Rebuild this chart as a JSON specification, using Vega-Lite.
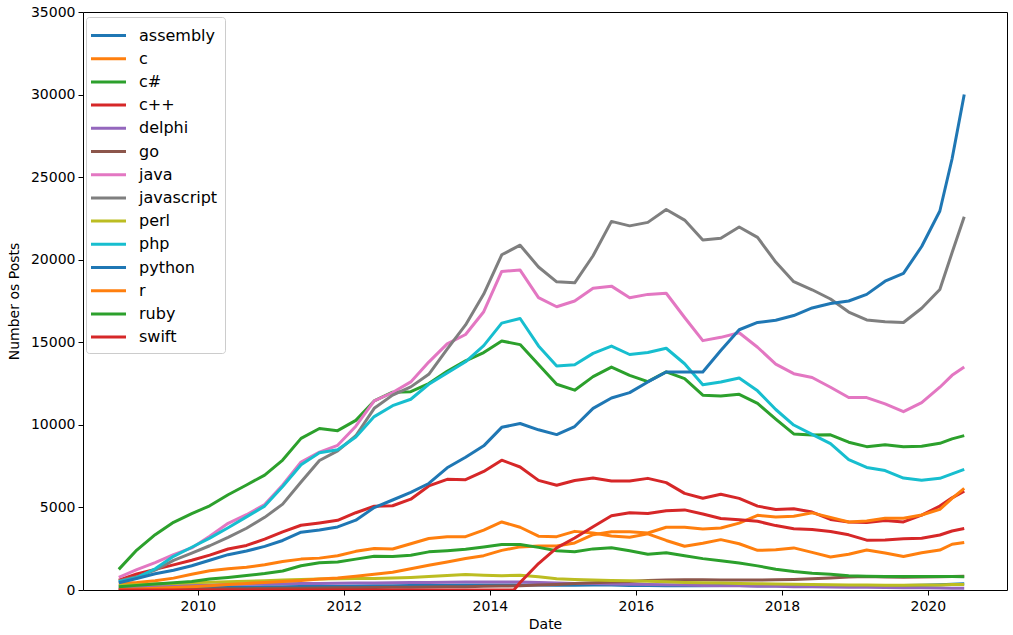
{
"$schema": "https://vega.github.io/schema/vega-lite/v6.json",
"width": 924, "height": 578,
"autosize": {"type": "none"},
"padding": {"left": 83, "top": 12, "right": 6, "bottom": 45},
"background": "white",
"config": {"font": "DejaVu Sans", "view": {"stroke": "black", "strokeWidth": 1}},
"data": {"values": [
{"d":"2008-12","l":"assembly","v":70},{"d":"2009-03","l":"assembly","v":90},{"d":"2009-06","l":"assembly","v":110},{"d":"2009-09","l":"assembly","v":130},{"d":"2009-12","l":"assembly","v":150},{"d":"2010-03","l":"assembly","v":160},{"d":"2010-06","l":"assembly","v":170},{"d":"2010-09","l":"assembly","v":180},{"d":"2010-12","l":"assembly","v":190},{"d":"2011-03","l":"assembly","v":200},{"d":"2011-06","l":"assembly","v":210},{"d":"2011-09","l":"assembly","v":220},{"d":"2011-12","l":"assembly","v":230},{"d":"2012-03","l":"assembly","v":240},{"d":"2012-06","l":"assembly","v":250},{"d":"2012-09","l":"assembly","v":260},{"d":"2012-12","l":"assembly","v":270},{"d":"2013-03","l":"assembly","v":280},{"d":"2013-06","l":"assembly","v":290},{"d":"2013-09","l":"assembly","v":300},{"d":"2013-12","l":"assembly","v":300},{"d":"2014-03","l":"assembly","v":310},{"d":"2014-06","l":"assembly","v":310},{"d":"2014-09","l":"assembly","v":300},{"d":"2014-12","l":"assembly","v":290},{"d":"2015-03","l":"assembly","v":290},{"d":"2015-06","l":"assembly","v":300},{"d":"2015-09","l":"assembly","v":300},{"d":"2015-12","l":"assembly","v":280},{"d":"2016-03","l":"assembly","v":270},{"d":"2016-06","l":"assembly","v":260},{"d":"2016-09","l":"assembly","v":260},{"d":"2016-12","l":"assembly","v":260},{"d":"2017-03","l":"assembly","v":270},{"d":"2017-06","l":"assembly","v":270},{"d":"2017-09","l":"assembly","v":260},{"d":"2017-12","l":"assembly","v":250},{"d":"2018-03","l":"assembly","v":250},{"d":"2018-06","l":"assembly","v":250},{"d":"2018-09","l":"assembly","v":250},{"d":"2018-12","l":"assembly","v":250},{"d":"2019-03","l":"assembly","v":250},{"d":"2019-06","l":"assembly","v":260},{"d":"2019-09","l":"assembly","v":270},{"d":"2019-12","l":"assembly","v":290},{"d":"2020-03","l":"assembly","v":320},{"d":"2020-05","l":"assembly","v":350},{"d":"2020-07","l":"assembly","v":380},
{"d":"2008-12","l":"c","v":400},{"d":"2009-03","l":"c","v":450},{"d":"2009-06","l":"c","v":560},{"d":"2009-09","l":"c","v":720},{"d":"2009-12","l":"c","v":950},{"d":"2010-03","l":"c","v":1160},{"d":"2010-06","l":"c","v":1280},{"d":"2010-09","l":"c","v":1380},{"d":"2010-12","l":"c","v":1530},{"d":"2011-03","l":"c","v":1720},{"d":"2011-06","l":"c","v":1870},{"d":"2011-09","l":"c","v":1930},{"d":"2011-12","l":"c","v":2070},{"d":"2012-03","l":"c","v":2340},{"d":"2012-06","l":"c","v":2510},{"d":"2012-09","l":"c","v":2480},{"d":"2012-12","l":"c","v":2800},{"d":"2013-03","l":"c","v":3120},{"d":"2013-06","l":"c","v":3230},{"d":"2013-09","l":"c","v":3230},{"d":"2013-12","l":"c","v":3630},{"d":"2014-03","l":"c","v":4120},{"d":"2014-06","l":"c","v":3800},{"d":"2014-09","l":"c","v":3260},{"d":"2014-12","l":"c","v":3230},{"d":"2015-03","l":"c","v":3550},{"d":"2015-06","l":"c","v":3450},{"d":"2015-09","l":"c","v":3270},{"d":"2015-12","l":"c","v":3200},{"d":"2016-03","l":"c","v":3400},{"d":"2016-06","l":"c","v":3000},{"d":"2016-09","l":"c","v":2650},{"d":"2016-12","l":"c","v":2830},{"d":"2017-03","l":"c","v":3050},{"d":"2017-06","l":"c","v":2800},{"d":"2017-09","l":"c","v":2400},{"d":"2017-12","l":"c","v":2440},{"d":"2018-03","l":"c","v":2550},{"d":"2018-06","l":"c","v":2280},{"d":"2018-09","l":"c","v":2000},{"d":"2018-12","l":"c","v":2170},{"d":"2019-03","l":"c","v":2420},{"d":"2019-06","l":"c","v":2240},{"d":"2019-09","l":"c","v":2030},{"d":"2019-12","l":"c","v":2250},{"d":"2020-03","l":"c","v":2420},{"d":"2020-05","l":"c","v":2770},{"d":"2020-07","l":"c","v":2880},
{"d":"2008-12","l":"c#","v":1250},{"d":"2009-03","l":"c#","v":2420},{"d":"2009-06","l":"c#","v":3350},{"d":"2009-09","l":"c#","v":4100},{"d":"2009-12","l":"c#","v":4620},{"d":"2010-03","l":"c#","v":5100},{"d":"2010-06","l":"c#","v":5770},{"d":"2010-09","l":"c#","v":6360},{"d":"2010-12","l":"c#","v":6960},{"d":"2011-03","l":"c#","v":7870},{"d":"2011-06","l":"c#","v":9180},{"d":"2011-09","l":"c#","v":9780},{"d":"2011-12","l":"c#","v":9650},{"d":"2012-03","l":"c#","v":10270},{"d":"2012-06","l":"c#","v":11450},{"d":"2012-09","l":"c#","v":11980},{"d":"2012-12","l":"c#","v":12010},{"d":"2013-03","l":"c#","v":12500},{"d":"2013-06","l":"c#","v":13240},{"d":"2013-09","l":"c#","v":13880},{"d":"2013-12","l":"c#","v":14380},{"d":"2014-03","l":"c#","v":15080},{"d":"2014-06","l":"c#","v":14860},{"d":"2014-09","l":"c#","v":13650},{"d":"2014-12","l":"c#","v":12460},{"d":"2015-03","l":"c#","v":12100},{"d":"2015-06","l":"c#","v":12920},{"d":"2015-09","l":"c#","v":13500},{"d":"2015-12","l":"c#","v":13000},{"d":"2016-03","l":"c#","v":12620},{"d":"2016-06","l":"c#","v":13210},{"d":"2016-09","l":"c#","v":12800},{"d":"2016-12","l":"c#","v":11800},{"d":"2017-03","l":"c#","v":11750},{"d":"2017-06","l":"c#","v":11850},{"d":"2017-09","l":"c#","v":11300},{"d":"2017-12","l":"c#","v":10350},{"d":"2018-03","l":"c#","v":9450},{"d":"2018-06","l":"c#","v":9390},{"d":"2018-09","l":"c#","v":9400},{"d":"2018-12","l":"c#","v":8950},{"d":"2019-03","l":"c#","v":8680},{"d":"2019-06","l":"c#","v":8800},{"d":"2019-09","l":"c#","v":8680},{"d":"2019-12","l":"c#","v":8700},{"d":"2020-03","l":"c#","v":8880},{"d":"2020-05","l":"c#","v":9150},{"d":"2020-07","l":"c#","v":9350},
{"d":"2008-12","l":"c++","v":600},{"d":"2009-03","l":"c++","v":970},{"d":"2009-06","l":"c++","v":1250},{"d":"2009-09","l":"c++","v":1520},{"d":"2009-12","l":"c++","v":1800},{"d":"2010-03","l":"c++","v":2110},{"d":"2010-06","l":"c++","v":2480},{"d":"2010-09","l":"c++","v":2700},{"d":"2010-12","l":"c++","v":3080},{"d":"2011-03","l":"c++","v":3520},{"d":"2011-06","l":"c++","v":3920},{"d":"2011-09","l":"c++","v":4060},{"d":"2011-12","l":"c++","v":4220},{"d":"2012-03","l":"c++","v":4680},{"d":"2012-06","l":"c++","v":5070},{"d":"2012-09","l":"c++","v":5100},{"d":"2012-12","l":"c++","v":5500},{"d":"2013-03","l":"c++","v":6300},{"d":"2013-06","l":"c++","v":6700},{"d":"2013-09","l":"c++","v":6680},{"d":"2013-12","l":"c++","v":7180},{"d":"2014-03","l":"c++","v":7860},{"d":"2014-06","l":"c++","v":7450},{"d":"2014-09","l":"c++","v":6640},{"d":"2014-12","l":"c++","v":6340},{"d":"2015-03","l":"c++","v":6630},{"d":"2015-06","l":"c++","v":6780},{"d":"2015-09","l":"c++","v":6600},{"d":"2015-12","l":"c++","v":6600},{"d":"2016-03","l":"c++","v":6760},{"d":"2016-06","l":"c++","v":6500},{"d":"2016-09","l":"c++","v":5850},{"d":"2016-12","l":"c++","v":5560},{"d":"2017-03","l":"c++","v":5800},{"d":"2017-06","l":"c++","v":5550},{"d":"2017-09","l":"c++","v":5080},{"d":"2017-12","l":"c++","v":4870},{"d":"2018-03","l":"c++","v":4920},{"d":"2018-06","l":"c++","v":4720},{"d":"2018-09","l":"c++","v":4270},{"d":"2018-12","l":"c++","v":4120},{"d":"2019-03","l":"c++","v":4090},{"d":"2019-06","l":"c++","v":4210},{"d":"2019-09","l":"c++","v":4120},{"d":"2019-12","l":"c++","v":4530},{"d":"2020-03","l":"c++","v":5080},{"d":"2020-05","l":"c++","v":5580},{"d":"2020-07","l":"c++","v":5990},
{"d":"2008-12","l":"delphi","v":200},{"d":"2009-03","l":"delphi","v":230},{"d":"2009-06","l":"delphi","v":250},{"d":"2009-09","l":"delphi","v":270},{"d":"2009-12","l":"delphi","v":290},{"d":"2010-03","l":"delphi","v":310},{"d":"2010-06","l":"delphi","v":330},{"d":"2010-09","l":"delphi","v":350},{"d":"2010-12","l":"delphi","v":360},{"d":"2011-03","l":"delphi","v":380},{"d":"2011-06","l":"delphi","v":390},{"d":"2011-09","l":"delphi","v":400},{"d":"2011-12","l":"delphi","v":410},{"d":"2012-03","l":"delphi","v":420},{"d":"2012-06","l":"delphi","v":430},{"d":"2012-09","l":"delphi","v":440},{"d":"2012-12","l":"delphi","v":450},{"d":"2013-03","l":"delphi","v":460},{"d":"2013-06","l":"delphi","v":470},{"d":"2013-09","l":"delphi","v":480},{"d":"2013-12","l":"delphi","v":480},{"d":"2014-03","l":"delphi","v":490},{"d":"2014-06","l":"delphi","v":480},{"d":"2014-09","l":"delphi","v":450},{"d":"2014-12","l":"delphi","v":420},{"d":"2015-03","l":"delphi","v":400},{"d":"2015-06","l":"delphi","v":390},{"d":"2015-09","l":"delphi","v":370},{"d":"2015-12","l":"delphi","v":350},{"d":"2016-03","l":"delphi","v":330},{"d":"2016-06","l":"delphi","v":320},{"d":"2016-09","l":"delphi","v":300},{"d":"2016-12","l":"delphi","v":280},{"d":"2017-03","l":"delphi","v":260},{"d":"2017-06","l":"delphi","v":250},{"d":"2017-09","l":"delphi","v":230},{"d":"2017-12","l":"delphi","v":220},{"d":"2018-03","l":"delphi","v":200},{"d":"2018-06","l":"delphi","v":190},{"d":"2018-09","l":"delphi","v":180},{"d":"2018-12","l":"delphi","v":170},{"d":"2019-03","l":"delphi","v":160},{"d":"2019-06","l":"delphi","v":150},{"d":"2019-09","l":"delphi","v":140},{"d":"2019-12","l":"delphi","v":130},{"d":"2020-03","l":"delphi","v":120},{"d":"2020-05","l":"delphi","v":110},{"d":"2020-07","l":"delphi","v":110},
{"d":"2008-12","l":"go","v":0},{"d":"2009-03","l":"go","v":0},{"d":"2009-06","l":"go","v":0},{"d":"2009-09","l":"go","v":0},{"d":"2009-12","l":"go","v":30},{"d":"2010-03","l":"go","v":60},{"d":"2010-06","l":"go","v":70},{"d":"2010-09","l":"go","v":80},{"d":"2010-12","l":"go","v":90},{"d":"2011-03","l":"go","v":100},{"d":"2011-06","l":"go","v":110},{"d":"2011-09","l":"go","v":120},{"d":"2011-12","l":"go","v":130},{"d":"2012-03","l":"go","v":140},{"d":"2012-06","l":"go","v":150},{"d":"2012-09","l":"go","v":160},{"d":"2012-12","l":"go","v":170},{"d":"2013-03","l":"go","v":180},{"d":"2013-06","l":"go","v":190},{"d":"2013-09","l":"go","v":200},{"d":"2013-12","l":"go","v":220},{"d":"2014-03","l":"go","v":240},{"d":"2014-06","l":"go","v":260},{"d":"2014-09","l":"go","v":300},{"d":"2014-12","l":"go","v":340},{"d":"2015-03","l":"go","v":390},{"d":"2015-06","l":"go","v":440},{"d":"2015-09","l":"go","v":480},{"d":"2015-12","l":"go","v":520},{"d":"2016-03","l":"go","v":570},{"d":"2016-06","l":"go","v":600},{"d":"2016-09","l":"go","v":620},{"d":"2016-12","l":"go","v":620},{"d":"2017-03","l":"go","v":610},{"d":"2017-06","l":"go","v":600},{"d":"2017-09","l":"go","v":600},{"d":"2017-12","l":"go","v":620},{"d":"2018-03","l":"go","v":640},{"d":"2018-06","l":"go","v":680},{"d":"2018-09","l":"go","v":720},{"d":"2018-12","l":"go","v":780},{"d":"2019-03","l":"go","v":820},{"d":"2019-06","l":"go","v":790},{"d":"2019-09","l":"go","v":770},{"d":"2019-12","l":"go","v":780},{"d":"2020-03","l":"go","v":800},{"d":"2020-05","l":"go","v":820},{"d":"2020-07","l":"go","v":830},
{"d":"2008-12","l":"java","v":770},{"d":"2009-03","l":"java","v":1230},{"d":"2009-06","l":"java","v":1660},{"d":"2009-09","l":"java","v":2140},{"d":"2009-12","l":"java","v":2550},{"d":"2010-03","l":"java","v":3260},{"d":"2010-06","l":"java","v":4040},{"d":"2010-09","l":"java","v":4560},{"d":"2010-12","l":"java","v":5170},{"d":"2011-03","l":"java","v":6360},{"d":"2011-06","l":"java","v":7750},{"d":"2011-09","l":"java","v":8350},{"d":"2011-12","l":"java","v":8760},{"d":"2012-03","l":"java","v":9920},{"d":"2012-06","l":"java","v":11450},{"d":"2012-09","l":"java","v":11960},{"d":"2012-12","l":"java","v":12600},{"d":"2013-03","l":"java","v":13800},{"d":"2013-06","l":"java","v":14900},{"d":"2013-09","l":"java","v":15470},{"d":"2013-12","l":"java","v":16850},{"d":"2014-03","l":"java","v":19290},{"d":"2014-06","l":"java","v":19370},{"d":"2014-09","l":"java","v":17700},{"d":"2014-12","l":"java","v":17150},{"d":"2015-03","l":"java","v":17500},{"d":"2015-06","l":"java","v":18270},{"d":"2015-09","l":"java","v":18400},{"d":"2015-12","l":"java","v":17700},{"d":"2016-03","l":"java","v":17900},{"d":"2016-06","l":"java","v":17970},{"d":"2016-09","l":"java","v":16500},{"d":"2016-12","l":"java","v":15100},{"d":"2017-03","l":"java","v":15300},{"d":"2017-06","l":"java","v":15580},{"d":"2017-09","l":"java","v":14700},{"d":"2017-12","l":"java","v":13680},{"d":"2018-03","l":"java","v":13100},{"d":"2018-06","l":"java","v":12870},{"d":"2018-09","l":"java","v":12280},{"d":"2018-12","l":"java","v":11660},{"d":"2019-03","l":"java","v":11650},{"d":"2019-06","l":"java","v":11270},{"d":"2019-09","l":"java","v":10800},{"d":"2019-12","l":"java","v":11350},{"d":"2020-03","l":"java","v":12280},{"d":"2020-05","l":"java","v":13000},{"d":"2020-07","l":"java","v":13500},
{"d":"2008-12","l":"javascript","v":550},{"d":"2009-03","l":"javascript","v":800},{"d":"2009-06","l":"javascript","v":1200},{"d":"2009-09","l":"javascript","v":1790},{"d":"2009-12","l":"javascript","v":2230},{"d":"2010-03","l":"javascript","v":2680},{"d":"2010-06","l":"javascript","v":3190},{"d":"2010-09","l":"javascript","v":3740},{"d":"2010-12","l":"javascript","v":4400},{"d":"2011-03","l":"javascript","v":5200},{"d":"2011-06","l":"javascript","v":6540},{"d":"2011-09","l":"javascript","v":7840},{"d":"2011-12","l":"javascript","v":8420},{"d":"2012-03","l":"javascript","v":9340},{"d":"2012-06","l":"javascript","v":11000},{"d":"2012-09","l":"javascript","v":11800},{"d":"2012-12","l":"javascript","v":12300},{"d":"2013-03","l":"javascript","v":13060},{"d":"2013-06","l":"javascript","v":14590},{"d":"2013-09","l":"javascript","v":16050},{"d":"2013-12","l":"javascript","v":17920},{"d":"2014-03","l":"javascript","v":20300},{"d":"2014-06","l":"javascript","v":20880},{"d":"2014-09","l":"javascript","v":19560},{"d":"2014-12","l":"javascript","v":18660},{"d":"2015-03","l":"javascript","v":18600},{"d":"2015-06","l":"javascript","v":20240},{"d":"2015-09","l":"javascript","v":22320},{"d":"2015-12","l":"javascript","v":22050},{"d":"2016-03","l":"javascript","v":22260},{"d":"2016-06","l":"javascript","v":23040},{"d":"2016-09","l":"javascript","v":22400},{"d":"2016-12","l":"javascript","v":21200},{"d":"2017-03","l":"javascript","v":21300},{"d":"2017-06","l":"javascript","v":21980},{"d":"2017-09","l":"javascript","v":21350},{"d":"2017-12","l":"javascript","v":19860},{"d":"2018-03","l":"javascript","v":18670},{"d":"2018-06","l":"javascript","v":18180},{"d":"2018-09","l":"javascript","v":17620},{"d":"2018-12","l":"javascript","v":16830},{"d":"2019-03","l":"javascript","v":16350},{"d":"2019-06","l":"javascript","v":16240},{"d":"2019-09","l":"javascript","v":16200},{"d":"2019-12","l":"javascript","v":17060},{"d":"2020-03","l":"javascript","v":18200},{"d":"2020-05","l":"javascript","v":20420},{"d":"2020-07","l":"javascript","v":22600},
{"d":"2008-12","l":"perl","v":280},{"d":"2009-03","l":"perl","v":320},{"d":"2009-06","l":"perl","v":360},{"d":"2009-09","l":"perl","v":400},{"d":"2009-12","l":"perl","v":440},{"d":"2010-03","l":"perl","v":470},{"d":"2010-06","l":"perl","v":500},{"d":"2010-09","l":"perl","v":530},{"d":"2010-12","l":"perl","v":560},{"d":"2011-03","l":"perl","v":600},{"d":"2011-06","l":"perl","v":630},{"d":"2011-09","l":"perl","v":660},{"d":"2011-12","l":"perl","v":680},{"d":"2012-03","l":"perl","v":690},{"d":"2012-06","l":"perl","v":700},{"d":"2012-09","l":"perl","v":720},{"d":"2012-12","l":"perl","v":760},{"d":"2013-03","l":"perl","v":810},{"d":"2013-06","l":"perl","v":880},{"d":"2013-09","l":"perl","v":940},{"d":"2013-12","l":"perl","v":900},{"d":"2014-03","l":"perl","v":870},{"d":"2014-06","l":"perl","v":900},{"d":"2014-09","l":"perl","v":800},{"d":"2014-12","l":"perl","v":680},{"d":"2015-03","l":"perl","v":640},{"d":"2015-06","l":"perl","v":600},{"d":"2015-09","l":"perl","v":580},{"d":"2015-12","l":"perl","v":560},{"d":"2016-03","l":"perl","v":530},{"d":"2016-06","l":"perl","v":500},{"d":"2016-09","l":"perl","v":460},{"d":"2016-12","l":"perl","v":440},{"d":"2017-03","l":"perl","v":420},{"d":"2017-06","l":"perl","v":400},{"d":"2017-09","l":"perl","v":380},{"d":"2017-12","l":"perl","v":370},{"d":"2018-03","l":"perl","v":350},{"d":"2018-06","l":"perl","v":330},{"d":"2018-09","l":"perl","v":320},{"d":"2018-12","l":"perl","v":300},{"d":"2019-03","l":"perl","v":300},{"d":"2019-06","l":"perl","v":290},{"d":"2019-09","l":"perl","v":290},{"d":"2019-12","l":"perl","v":300},{"d":"2020-03","l":"perl","v":310},{"d":"2020-05","l":"perl","v":330},{"d":"2020-07","l":"perl","v":340},
{"d":"2008-12","l":"php","v":500},{"d":"2009-03","l":"php","v":750},{"d":"2009-06","l":"php","v":1280},{"d":"2009-09","l":"php","v":2040},{"d":"2009-12","l":"php","v":2590},{"d":"2010-03","l":"php","v":3140},{"d":"2010-06","l":"php","v":3770},{"d":"2010-09","l":"php","v":4430},{"d":"2010-12","l":"php","v":5080},{"d":"2011-03","l":"php","v":6270},{"d":"2011-06","l":"php","v":7580},{"d":"2011-09","l":"php","v":8310},{"d":"2011-12","l":"php","v":8490},{"d":"2012-03","l":"php","v":9260},{"d":"2012-06","l":"php","v":10500},{"d":"2012-09","l":"php","v":11160},{"d":"2012-12","l":"php","v":11550},{"d":"2013-03","l":"php","v":12460},{"d":"2013-06","l":"php","v":13140},{"d":"2013-09","l":"php","v":13820},{"d":"2013-12","l":"php","v":14800},{"d":"2014-03","l":"php","v":16160},{"d":"2014-06","l":"php","v":16440},{"d":"2014-09","l":"php","v":14780},{"d":"2014-12","l":"php","v":13560},{"d":"2015-03","l":"php","v":13640},{"d":"2015-06","l":"php","v":14330},{"d":"2015-09","l":"php","v":14770},{"d":"2015-12","l":"php","v":14260},{"d":"2016-03","l":"php","v":14380},{"d":"2016-06","l":"php","v":14640},{"d":"2016-09","l":"php","v":13700},{"d":"2016-12","l":"php","v":12430},{"d":"2017-03","l":"php","v":12590},{"d":"2017-06","l":"php","v":12840},{"d":"2017-09","l":"php","v":12060},{"d":"2017-12","l":"php","v":10930},{"d":"2018-03","l":"php","v":9990},{"d":"2018-06","l":"php","v":9420},{"d":"2018-09","l":"php","v":8860},{"d":"2018-12","l":"php","v":7900},{"d":"2019-03","l":"php","v":7420},{"d":"2019-06","l":"php","v":7230},{"d":"2019-09","l":"php","v":6780},{"d":"2019-12","l":"php","v":6640},{"d":"2020-03","l":"php","v":6760},{"d":"2020-05","l":"php","v":7030},{"d":"2020-07","l":"php","v":7300},
{"d":"2008-12","l":"python","v":440},{"d":"2009-03","l":"python","v":700},{"d":"2009-06","l":"python","v":980},{"d":"2009-09","l":"python","v":1200},{"d":"2009-12","l":"python","v":1470},{"d":"2010-03","l":"python","v":1800},{"d":"2010-06","l":"python","v":2140},{"d":"2010-09","l":"python","v":2360},{"d":"2010-12","l":"python","v":2640},{"d":"2011-03","l":"python","v":3000},{"d":"2011-06","l":"python","v":3500},{"d":"2011-09","l":"python","v":3630},{"d":"2011-12","l":"python","v":3820},{"d":"2012-03","l":"python","v":4230},{"d":"2012-06","l":"python","v":4990},{"d":"2012-09","l":"python","v":5450},{"d":"2012-12","l":"python","v":5910},{"d":"2013-03","l":"python","v":6450},{"d":"2013-06","l":"python","v":7400},{"d":"2013-09","l":"python","v":8040},{"d":"2013-12","l":"python","v":8730},{"d":"2014-03","l":"python","v":9850},{"d":"2014-06","l":"python","v":10080},{"d":"2014-09","l":"python","v":9700},{"d":"2014-12","l":"python","v":9410},{"d":"2015-03","l":"python","v":9900},{"d":"2015-06","l":"python","v":11000},{"d":"2015-09","l":"python","v":11630},{"d":"2015-12","l":"python","v":11950},{"d":"2016-03","l":"python","v":12600},{"d":"2016-06","l":"python","v":13200},{"d":"2016-09","l":"python","v":13200},{"d":"2016-12","l":"python","v":13200},{"d":"2017-03","l":"python","v":14500},{"d":"2017-06","l":"python","v":15760},{"d":"2017-09","l":"python","v":16200},{"d":"2017-12","l":"python","v":16330},{"d":"2018-03","l":"python","v":16620},{"d":"2018-06","l":"python","v":17080},{"d":"2018-09","l":"python","v":17350},{"d":"2018-12","l":"python","v":17500},{"d":"2019-03","l":"python","v":17900},{"d":"2019-06","l":"python","v":18700},{"d":"2019-09","l":"python","v":19170},{"d":"2019-12","l":"python","v":20800},{"d":"2020-03","l":"python","v":22950},{"d":"2020-05","l":"python","v":26100},{"d":"2020-07","l":"python","v":30000},
{"d":"2008-12","l":"r","v":30},{"d":"2009-03","l":"r","v":60},{"d":"2009-06","l":"r","v":100},{"d":"2009-09","l":"r","v":150},{"d":"2009-12","l":"r","v":200},{"d":"2010-03","l":"r","v":260},{"d":"2010-06","l":"r","v":330},{"d":"2010-09","l":"r","v":400},{"d":"2010-12","l":"r","v":460},{"d":"2011-03","l":"r","v":510},{"d":"2011-06","l":"r","v":570},{"d":"2011-09","l":"r","v":660},{"d":"2011-12","l":"r","v":720},{"d":"2012-03","l":"r","v":830},{"d":"2012-06","l":"r","v":960},{"d":"2012-09","l":"r","v":1080},{"d":"2012-12","l":"r","v":1290},{"d":"2013-03","l":"r","v":1500},{"d":"2013-06","l":"r","v":1700},{"d":"2013-09","l":"r","v":1910},{"d":"2013-12","l":"r","v":2080},{"d":"2014-03","l":"r","v":2400},{"d":"2014-06","l":"r","v":2610},{"d":"2014-09","l":"r","v":2660},{"d":"2014-12","l":"r","v":2660},{"d":"2015-03","l":"r","v":2850},{"d":"2015-06","l":"r","v":3350},{"d":"2015-09","l":"r","v":3530},{"d":"2015-12","l":"r","v":3530},{"d":"2016-03","l":"r","v":3450},{"d":"2016-06","l":"r","v":3800},{"d":"2016-09","l":"r","v":3800},{"d":"2016-12","l":"r","v":3700},{"d":"2017-03","l":"r","v":3750},{"d":"2017-06","l":"r","v":4050},{"d":"2017-09","l":"r","v":4520},{"d":"2017-12","l":"r","v":4420},{"d":"2018-03","l":"r","v":4470},{"d":"2018-06","l":"r","v":4670},{"d":"2018-09","l":"r","v":4400},{"d":"2018-12","l":"r","v":4120},{"d":"2019-03","l":"r","v":4180},{"d":"2019-06","l":"r","v":4350},{"d":"2019-09","l":"r","v":4340},{"d":"2019-12","l":"r","v":4540},{"d":"2020-03","l":"r","v":4880},{"d":"2020-05","l":"r","v":5550},{"d":"2020-07","l":"r","v":6150},
{"d":"2008-12","l":"ruby","v":200},{"d":"2009-03","l":"ruby","v":280},{"d":"2009-06","l":"ruby","v":360},{"d":"2009-09","l":"ruby","v":440},{"d":"2009-12","l":"ruby","v":520},{"d":"2010-03","l":"ruby","v":660},{"d":"2010-06","l":"ruby","v":760},{"d":"2010-09","l":"ruby","v":880},{"d":"2010-12","l":"ruby","v":1000},{"d":"2011-03","l":"ruby","v":1150},{"d":"2011-06","l":"ruby","v":1470},{"d":"2011-09","l":"ruby","v":1650},{"d":"2011-12","l":"ruby","v":1700},{"d":"2012-03","l":"ruby","v":1870},{"d":"2012-06","l":"ruby","v":2050},{"d":"2012-09","l":"ruby","v":2030},{"d":"2012-12","l":"ruby","v":2110},{"d":"2013-03","l":"ruby","v":2310},{"d":"2013-06","l":"ruby","v":2380},{"d":"2013-09","l":"ruby","v":2470},{"d":"2013-12","l":"ruby","v":2610},{"d":"2014-03","l":"ruby","v":2750},{"d":"2014-06","l":"ruby","v":2760},{"d":"2014-09","l":"ruby","v":2580},{"d":"2014-12","l":"ruby","v":2380},{"d":"2015-03","l":"ruby","v":2320},{"d":"2015-06","l":"ruby","v":2490},{"d":"2015-09","l":"ruby","v":2560},{"d":"2015-12","l":"ruby","v":2380},{"d":"2016-03","l":"ruby","v":2170},{"d":"2016-06","l":"ruby","v":2260},{"d":"2016-09","l":"ruby","v":2070},{"d":"2016-12","l":"ruby","v":1900},{"d":"2017-03","l":"ruby","v":1770},{"d":"2017-06","l":"ruby","v":1630},{"d":"2017-09","l":"ruby","v":1460},{"d":"2017-12","l":"ruby","v":1260},{"d":"2018-03","l":"ruby","v":1120},{"d":"2018-06","l":"ruby","v":1010},{"d":"2018-09","l":"ruby","v":950},{"d":"2018-12","l":"ruby","v":870},{"d":"2019-03","l":"ruby","v":830},{"d":"2019-06","l":"ruby","v":810},{"d":"2019-09","l":"ruby","v":810},{"d":"2019-12","l":"ruby","v":810},{"d":"2020-03","l":"ruby","v":810},{"d":"2020-05","l":"ruby","v":810},{"d":"2020-07","l":"ruby","v":800},
{"d":"2008-12","l":"swift","v":0},{"d":"2014-05","l":"swift","v":0},{"d":"2014-06","l":"swift","v":450},{"d":"2014-09","l":"swift","v":1600},{"d":"2014-12","l":"swift","v":2550},{"d":"2015-03","l":"swift","v":3150},{"d":"2015-06","l":"swift","v":3830},{"d":"2015-09","l":"swift","v":4500},{"d":"2015-12","l":"swift","v":4680},{"d":"2016-03","l":"swift","v":4630},{"d":"2016-06","l":"swift","v":4800},{"d":"2016-09","l":"swift","v":4850},{"d":"2016-12","l":"swift","v":4600},{"d":"2017-03","l":"swift","v":4330},{"d":"2017-06","l":"swift","v":4260},{"d":"2017-09","l":"swift","v":4160},{"d":"2017-12","l":"swift","v":3900},{"d":"2018-03","l":"swift","v":3710},{"d":"2018-06","l":"swift","v":3670},{"d":"2018-09","l":"swift","v":3540},{"d":"2018-12","l":"swift","v":3340},{"d":"2019-03","l":"swift","v":3020},{"d":"2019-06","l":"swift","v":3030},{"d":"2019-09","l":"swift","v":3100},{"d":"2019-12","l":"swift","v":3130},{"d":"2020-03","l":"swift","v":3330},{"d":"2020-05","l":"swift","v":3570},{"d":"2020-07","l":"swift","v":3720}
]},
"mark": {"type": "line", "strokeWidth": 3, "strokeJoin": "round", "clip": true},
"encoding": {
  "x": {"field": "d", "type": "temporal", "title": "Date",
    "scale": {"domain": [{"year": 2008, "month": 6, "date": 5}, {"year": 2021, "month": 1, "date": 31}]},
    "axis": {"format": "%Y", "tickCount": {"interval": "year", "step": 2}, "grid": false, "domain": false,
      "labelFontSize": 14, "labelColor": "black", "tickColor": "black", "tickSize": 5, "labelPadding": 4,
      "labelFlush": false, "labelOverlap": false, "titleFontSize": 14, "titleFontWeight": "normal", "titleColor": "black", "titlePadding": 4}},
  "y": {"field": "v", "type": "quantitative", "title": "Number os Posts",
    "scale": {"domain": [0, 35000], "nice": false},
    "axis": {"values": [0, 5000, 10000, 15000, 20000, 25000, 30000, 35000], "format": "d", "grid": false, "domain": false,
      "labelFontSize": 14, "labelColor": "black", "tickColor": "black", "tickSize": 5, "labelPadding": 3,
      "labelFlush": false, "labelOverlap": false, "titleFontSize": 14, "titleFontWeight": "normal", "titleColor": "black", "titlePadding": 9}},
  "color": {"field": "l", "type": "nominal",
    "scale": {"domain": ["assembly","c","c#","c++","delphi","go","java","javascript","perl","php","python","r","ruby","swift"],
      "range": ["#1f77b4","#ff7f0e","#2ca02c","#d62728","#9467bd","#8c564b","#e377c2","#7f7f7f","#bcbd22","#17becf","#1f77b4","#ff7f0e","#2ca02c","#d62728"]},
    "legend": {"title": null, "orient": "none", "legendX": 3, "legendY": 5, "fillColor": "white", "strokeColor": "#cccccc",
      "cornerRadius": 3, "padding": 7, "labelFontSize": 16, "labelColor": "black", "symbolType": "M-1.75,0L1.75,0",
      "symbolSize": 400, "symbolStrokeWidth": 3, "rowPadding": 3.2, "symbolOffset": 4, "labelOffset": 19, "labelLimit": 200}}
}
}
